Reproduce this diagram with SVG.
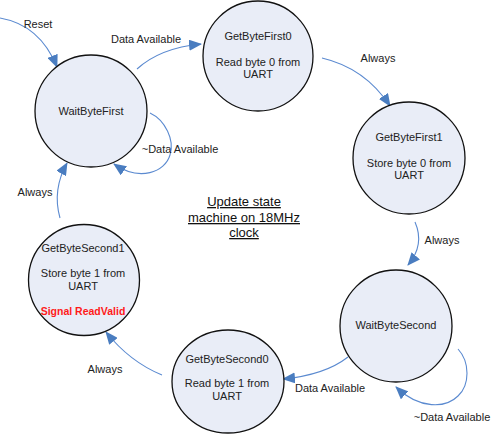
<svg xmlns="http://www.w3.org/2000/svg" width="491" height="434" viewBox="0 0 491 434">
<defs>
<marker id="ah" markerUnits="userSpaceOnUse" markerWidth="13" markerHeight="11" refX="12" refY="5.5" orient="auto">
<path d="M0,0 L13,5.5 L0,11 z" fill="#4A7DC0"/>
</marker>
<style>
.st{fill:#E9EDF7;stroke:#111;stroke-width:1.3}
.t{font-family:"Liberation Sans",Arial,sans-serif;font-size:11px;fill:#222;text-anchor:middle}
.c{fill:none;stroke:#5B8AD0;stroke-width:1.1;marker-end:url(#ah)}
.u{font-family:"Liberation Sans",Arial,sans-serif;font-size:13px;fill:#111;text-anchor:middle;text-decoration:underline}
.r{font-family:"Liberation Sans",Arial,sans-serif;font-size:10.5px;font-weight:bold;fill:#FF1A1A;text-anchor:middle}
</style>
</defs>
<rect width="491" height="434" fill="#fff"/>
<g id="connectors">
<path class="c" d="M0,18 Q40,25 57,67"/>
<path class="c" d="M137,69 Q160,48 201,44"/>
<path class="c" d="M150,113 C165,120 175,140 170,155 C165,172 140,182 114,164"/>
<path class="c" d="M322,58 Q365,68 390,106"/>
<path class="c" d="M415,222 Q425,245 408,265"/>
<path class="c" d="M458,349 C470,362 470,385 458,396 C446,408 420,410 396,387"/>
<path class="c" d="M348,357 Q325,375 283,379"/>
<path class="c" d="M162,375 Q130,362 106,332"/>
<path class="c" d="M60,218 Q52,190 67,163"/>
<text class="t" x="38" y="28">Reset</text>
<text class="t" x="146" y="43">Data Available</text>
<text class="t" x="180" y="153">~Data Available</text>
<text class="t" x="378" y="62">Always</text>
<text class="t" x="442" y="244">Always</text>
<text class="t" x="330" y="392">Data Available</text>
<text class="t" x="452" y="421">~Data Available</text>
<text class="t" x="105" y="373">Always</text>
<text class="t" x="35" y="196">Always</text>
</g>
<g id="WaitByteFirst">
<circle class="st" cx="91" cy="111" r="56"/>
<text class="t" x="91" y="115">WaitByteFirst</text>
</g>
<g id="GetByteFirst0">
<circle class="st" cx="258" cy="56" r="55"/>
<text class="t" x="258" y="40">GetByteFirst0</text>
<text class="t" x="258" y="66">Read byte 0 from</text>
<text class="t" x="258" y="78">UART</text>
</g>
<g id="GetByteFirst1">
<circle class="st" cx="409" cy="158" r="56"/>
<text class="t" x="409" y="141">GetByteFirst1</text>
<text class="t" x="409" y="167">Store byte 0 from</text>
<text class="t" x="409" y="179">UART</text>
</g>
<g id="WaitByteSecond">
<circle class="st" cx="396" cy="326" r="56"/>
<text class="t" x="396" y="329">WaitByteSecond</text>
</g>
<g id="GetByteSecond0">
<ellipse class="st" cx="228" cy="381.5" rx="56" ry="51.5"/>
<text class="t" x="227" y="363">GetByteSecond0</text>
<text class="t" x="227" y="387">Read byte 1 from</text>
<text class="t" x="227" y="400">UART</text>
</g>
<g id="GetByteSecond1">
<circle class="st" cx="84" cy="280" r="55.5"/>
<text class="t" x="83" y="252">GetByteSecond1</text>
<text class="t" x="83" y="277">Store byte 1 from</text>
<text class="t" x="83" y="290">UART</text>
<text class="r" x="83" y="315">Signal ReadValid</text>
</g>
<g id="note">
<text class="u" x="244" y="206">Update state</text>
<text class="u" x="244" y="222">machine on 18MHz</text>
<text class="u" x="244" y="237">clock</text>
</g>
</svg>
